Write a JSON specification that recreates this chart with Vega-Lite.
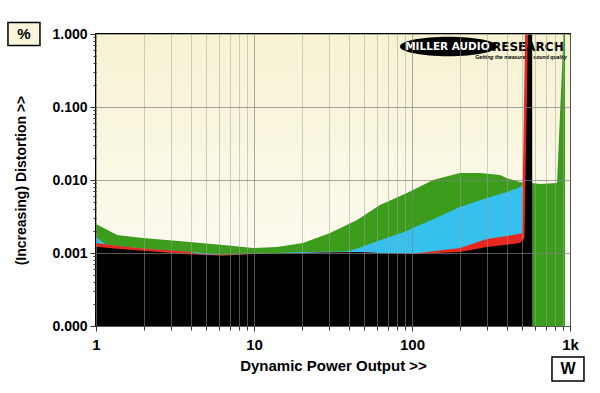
{
  "$schema": "https://vega.github.io/schema/vega-lite/v6.json",
  "width": 474,
  "height": 292,
  "autosize": {"type": "none"},
  "padding": {"left": 96, "top": 34, "right": 30, "bottom": 67},
  "background": "#ffffff",
  "config": {
    "font": "Liberation Sans",
    "view": {"stroke": "#000000", "strokeWidth": 2},
    "axis": {"labelFont": "Liberation Sans", "titleFont": "Liberation Sans", "labelFontWeight": "bold", "titleFontWeight": "bold", "labelColor": "#000", "titleColor": "#000"}
  },
  "data": {
    "values": [
      {"s": "1ohm", "w": 1, "d": 0.00249},
      {"s": "1ohm", "w": 1.36, "d": 0.00177},
      {"s": "1ohm", "w": 1.98, "d": 0.0016},
      {"s": "1ohm", "w": 3.94, "d": 0.00142},
      {"s": "1ohm", "w": 6.37, "d": 0.00129},
      {"s": "1ohm", "w": 9.86, "d": 0.00117},
      {"s": "1ohm", "w": 14.0, "d": 0.00121},
      {"s": "1ohm", "w": 20.4, "d": 0.00137},
      {"s": "1ohm", "w": 30.3, "d": 0.00188},
      {"s": "1ohm", "w": 44.9, "d": 0.00283},
      {"s": "1ohm", "w": 62.7, "d": 0.00455},
      {"s": "1ohm", "w": 92.9, "d": 0.00664},
      {"s": "1ohm", "w": 136, "d": 0.0100},
      {"s": "1ohm", "w": 201, "d": 0.01247},
      {"s": "1ohm", "w": 269, "d": 0.01247},
      {"s": "1ohm", "w": 361, "d": 0.0117},
      {"s": "1ohm", "w": 399, "d": 0.0106},
      {"s": "1ohm", "w": 483, "d": 0.0094},
      {"s": "1ohm", "w": 574, "d": 0.0091},
      {"s": "1ohm", "w": 646, "d": 0.0088},
      {"s": "1ohm", "w": 828, "d": 0.0091},
      {"s": "1ohm", "w": 930, "d": 3},
      {"s": "1ohm", "w": 931, "d": 0.0001},
      {"s": "2ohm", "w": 1, "d": 0.00166},
      {"s": "2ohm", "w": 1.14, "d": 0.00133},
      {"s": "2ohm", "w": 1.36, "d": 0.00126},
      {"s": "2ohm", "w": 1.98, "d": 0.00115},
      {"s": "2ohm", "w": 3.94, "d": 0.00104},
      {"s": "2ohm", "w": 6.37, "d": 0.00094},
      {"s": "2ohm", "w": 9.86, "d": 0.00097},
      {"s": "2ohm", "w": 20.4, "d": 0.00103},
      {"s": "2ohm", "w": 38.8, "d": 0.00105},
      {"s": "2ohm", "w": 44.9, "d": 0.00115},
      {"s": "2ohm", "w": 62.7, "d": 0.0015},
      {"s": "2ohm", "w": 92.9, "d": 0.002},
      {"s": "2ohm", "w": 101, "d": 0.0022},
      {"s": "2ohm", "w": 136, "d": 0.0029},
      {"s": "2ohm", "w": 201, "d": 0.00427},
      {"s": "2ohm", "w": 269, "d": 0.0053},
      {"s": "2ohm", "w": 298, "d": 0.00567},
      {"s": "2ohm", "w": 399, "d": 0.00685},
      {"s": "2ohm", "w": 470, "d": 0.0078},
      {"s": "2ohm", "w": 500, "d": 0.0084},
      {"s": "2ohm", "w": 574, "d": 3},
      {"s": "2ohm", "w": 575, "d": 0.0001},
      {"s": "4ohm", "w": 1, "d": 0.00137},
      {"s": "4ohm", "w": 1.36, "d": 0.00126},
      {"s": "4ohm", "w": 1.98, "d": 0.00115},
      {"s": "4ohm", "w": 3.94, "d": 0.00104},
      {"s": "4ohm", "w": 4.55, "d": 0.00096},
      {"s": "4ohm", "w": 6.37, "d": 0.00094},
      {"s": "4ohm", "w": 9.86, "d": 0.00097},
      {"s": "4ohm", "w": 20.4, "d": 0.001},
      {"s": "4ohm", "w": 44.9, "d": 0.00103},
      {"s": "4ohm", "w": 62.7, "d": 0.001},
      {"s": "4ohm", "w": 101, "d": 0.00098},
      {"s": "4ohm", "w": 201, "d": 0.00117},
      {"s": "4ohm", "w": 298, "d": 0.00155},
      {"s": "4ohm", "w": 462, "d": 0.0018},
      {"s": "4ohm", "w": 497, "d": 0.00186},
      {"s": "4ohm", "w": 522, "d": 2},
      {"s": "4ohm", "w": 560, "d": 2},
      {"s": "4ohm", "w": 561, "d": 0.0001},
      {"s": "8ohm", "w": 1, "d": 0.00122},
      {"s": "8ohm", "w": 1.36, "d": 0.00114},
      {"s": "8ohm", "w": 1.98, "d": 0.00107},
      {"s": "8ohm", "w": 3.94, "d": 0.00096},
      {"s": "8ohm", "w": 6.37, "d": 0.00092},
      {"s": "8ohm", "w": 9.86, "d": 0.00097},
      {"s": "8ohm", "w": 20.4, "d": 0.001},
      {"s": "8ohm", "w": 44.9, "d": 0.00103},
      {"s": "8ohm", "w": 62.7, "d": 0.001},
      {"s": "8ohm", "w": 101, "d": 0.00097},
      {"s": "8ohm", "w": 201, "d": 0.00103},
      {"s": "8ohm", "w": 298, "d": 0.00121},
      {"s": "8ohm", "w": 483, "d": 0.00137},
      {"s": "8ohm", "w": 515, "d": 0.0016},
      {"s": "8ohm", "w": 545, "d": 2},
      {"s": "8ohm", "w": 576, "d": 2},
      {"s": "8ohm", "w": 577, "d": 0.0001}
    ]
  },
  "layer": [
    {
      "data": {"values": [{}]},
      "mark": {"type": "rect", "fill": {"gradient": "linear", "x1": 0, "y1": 0, "x2": 0, "y2": 1, "stops": [{"offset": 0, "color": "#f7f2d2"}, {"offset": 0.8, "color": "#fcfbf0"}, {"offset": 1, "color": "#ffffff"}]}},
      "encoding": {
        "x": {"datum": 1, "type": "quantitative", "scale": {"type": "log", "domain": [1, 1000], "nice": false}},
        "x2": {"datum": 1000},
        "y": {"datum": 0.0001, "type": "quantitative", "scale": {"type": "log", "domain": [0.0001, 1], "nice": false}},
        "y2": {"datum": 1}
      }
    },
    {
      "transform": [{"filter": "datum.s === '1ohm'"}],
      "mark": {"type": "area", "color": "#3c9c1c", "clip": true, "interpolate": "linear"},
      "encoding": {
        "x": {"field": "w", "type": "quantitative",
          "axis": {
            "title": "Dynamic Power Output >>", "titleFontSize": 15, "titlePadding": 6,
            "values": [1,2,3,4,5,6,7,8,9,10,20,30,40,50,60,70,80,90,100,200,300,400,500,600,700,800,900,1000],
            "labelExpr": "abs(log(datum.value)/LN10 - round(log(datum.value)/LN10)) < 0.001 ? (datum.value >= 1000 ? '1k' : format(datum.value, 'd')) : ''",
            "labelFontSize": 15, "labelPadding": 6, "labelOverlap": false, "labelFlush": false,
            "domain": false, "zindex": 1,
            "tickColor": "#333", "tickSize": {"condition": {"test": "abs(log(datum.value)/LN10 - round(log(datum.value)/LN10)) < 0.001", "value": 5}, "value": 4},
            "grid": true,
            "gridColor": {"condition": {"test": "abs(log(datum.value)/LN10 - round(log(datum.value)/LN10)) < 0.001", "value": "#808080"}, "value": "#a0a0a0"},
            "gridOpacity": {"condition": {"test": "abs(log(datum.value)/LN10 - round(log(datum.value)/LN10)) < 0.001", "value": 0.65}, "value": 0.5}
          }},
        "y": {"field": "d", "type": "quantitative", "stack": null,
          "axis": {
            "title": "(Increasing) Distortion >>", "titleFontSize": 14, "titlePadding": 23,
            "values": [0.0001,0.0002,0.0003,0.0004,0.0005,0.0006,0.0007,0.0008,0.0009,0.001,0.002,0.003,0.004,0.005,0.006,0.007,0.008,0.009,0.01,0.02,0.03,0.04,0.05,0.06,0.07,0.08,0.09,0.1,0.2,0.3,0.4,0.5,0.6,0.7,0.8,0.9,1],
            "labelExpr": "abs(log(datum.value)/LN10 - round(log(datum.value)/LN10)) < 0.001 ? format(datum.value, '.3f') : ''",
            "labelFontSize": 14, "labelPadding": 3, "labelOverlap": false, "labelFlush": false,
            "domain": false, "zindex": 1,
            "tickColor": "#333", "tickSize": {"condition": {"test": "abs(log(datum.value)/LN10 - round(log(datum.value)/LN10)) < 0.001", "value": 6}, "value": 3},
            "grid": true, "gridColor": "#808080", "gridOpacity": {"condition": {"test": "abs(log(datum.value)/LN10 - round(log(datum.value)/LN10)) < 0.001", "value": 0.7}, "value": 0}
          }},
        "y2": {"datum": 0.0001}
      }
    },
    {
      "transform": [{"filter": "datum.s === '2ohm'"}],
      "mark": {"type": "area", "color": "#36c0ee", "clip": true},
      "encoding": {
        "x": {"field": "w", "type": "quantitative"},
        "y": {"field": "d", "type": "quantitative", "stack": null},
        "y2": {"datum": 0.0001}
      }
    },
    {
      "transform": [{"filter": "datum.s === '4ohm'"}],
      "mark": {"type": "area", "color": "#e8281f", "clip": true},
      "encoding": {
        "x": {"field": "w", "type": "quantitative"},
        "y": {"field": "d", "type": "quantitative", "stack": null},
        "y2": {"datum": 0.0001}
      }
    },
    {
      "transform": [{"filter": "datum.s === '8ohm'"}],
      "mark": {"type": "area", "color": "#000000", "clip": true},
      "encoding": {
        "x": {"field": "w", "type": "quantitative"},
        "y": {"field": "d", "type": "quantitative", "stack": null},
        "y2": {"datum": 0.0001}
      }
    },
    {
      "data": {"values": [{}]},
      "mark": {"type": "point", "shape": "M-1,0A1,0.2,0,1,1,1,0A1,0.2,0,1,1,-1,0Z", "size": 9409, "filled": true, "fill": "#000", "opacity": 1, "stroke": null},
      "encoding": {
        "x": {"datum": 170, "type": "quantitative"},
        "y": {"datum": 0.674, "type": "quantitative"}
      }
    },
    {
      "data": {"values": [{}]},
      "mark": {"type": "text", "text": "MILLER AUDIO", "font": "DejaVu Sans", "fontWeight": "bold", "fontSize": 10.5, "fill": "#ffffff", "align": "center", "baseline": "middle", "dx": -1},
      "encoding": {
        "x": {"datum": 170, "type": "quantitative"},
        "y": {"datum": 0.674, "type": "quantitative"}
      }
    },
    {
      "data": {"values": [{}]},
      "mark": {"type": "text", "text": "RESEARCH", "font": "DejaVu Sans", "fontWeight": "bold", "fontSize": 12, "fill": "#000000", "align": "left", "baseline": "middle"},
      "encoding": {
        "x": {"datum": 321, "type": "quantitative"},
        "y": {"datum": 0.674, "type": "quantitative"}
      }
    },
    {
      "data": {"values": [{}]},
      "mark": {"type": "text", "text": "Getting the measure of sound quality", "font": "Liberation Sans", "fontWeight": "bold", "fontStyle": "italic", "fontSize": 5.2, "fill": "#000000", "align": "right", "baseline": "middle"},
      "encoding": {
        "x": {"datum": 957, "type": "quantitative"},
        "y": {"datum": 0.484, "type": "quantitative"}
      }
    },
    {
      "data": {"values": [{}]},
      "mark": {"type": "point", "shape": "M-1,-0.72H1V0.72H-1Z", "size": 1024, "filled": false, "fill": "#f8f5da", "fillOpacity": 1, "stroke": "#000", "strokeWidth": 1.5, "opacity": 1, "clip": false},
      "encoding": {
        "x": {"datum": 0.35, "type": "quantitative"},
        "y": {"datum": 1.0, "type": "quantitative"}
      }
    },
    {
      "data": {"values": [{}]},
      "mark": {"type": "text", "text": "%", "fontWeight": "bold", "fontSize": 15, "align": "center", "baseline": "middle", "fill": "#000", "clip": false},
      "encoding": {
        "x": {"datum": 0.35, "type": "quantitative"},
        "y": {"datum": 1.0, "type": "quantitative"}
      }
    },
    {
      "data": {"values": [{}]},
      "mark": {"type": "point", "shape": "M-1,-0.75H1V0.75H-1Z", "size": 1024, "filled": false, "fill": "#ffffff", "fillOpacity": 1, "stroke": "#000", "strokeWidth": 1.5, "opacity": 1, "clip": false},
      "encoding": {
        "x": {"datum": 971, "type": "quantitative"},
        "y": {"datum": 0.0000258, "type": "quantitative"}
      }
    },
    {
      "data": {"values": [{}]},
      "mark": {"type": "text", "text": "W", "fontWeight": "bold", "fontSize": 16, "align": "center", "baseline": "middle", "fill": "#000", "clip": false},
      "encoding": {
        "x": {"datum": 971, "type": "quantitative"},
        "y": {"datum": 0.0000258, "type": "quantitative"}
      }
    }
  ]
}
